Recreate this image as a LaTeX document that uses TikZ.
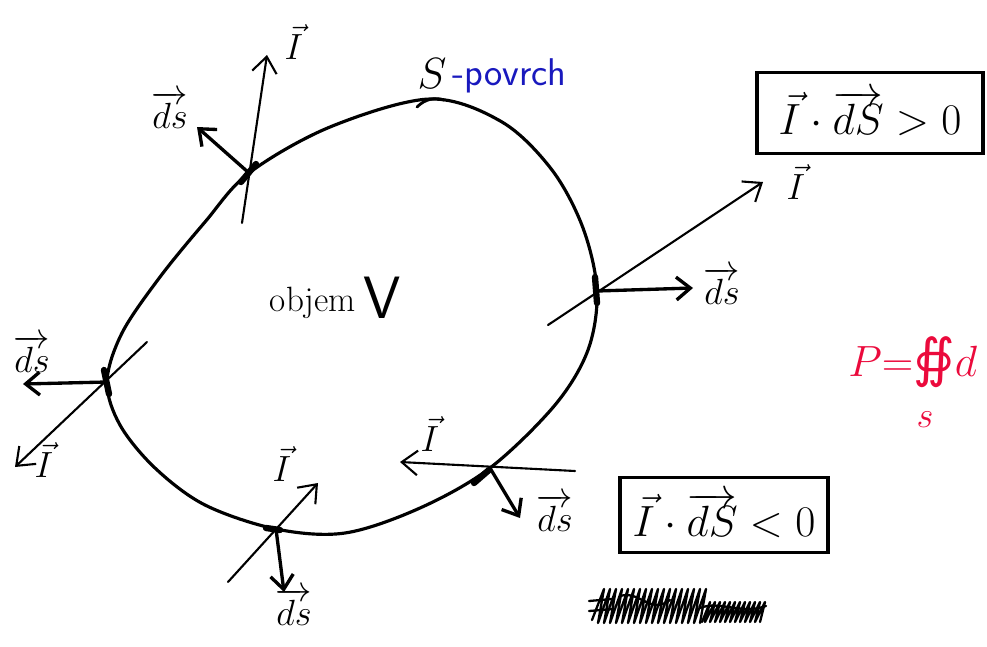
\documentclass[tikz,border=0pt]{standalone}
\usepackage{fontspec}
\newfontfamily\symfont{DejaVu Sans}
\usetikzlibrary{arrows.meta}
\definecolor{penred}{RGB}{235,10,60}
\definecolor{penblue}{RGB}{25,25,190}
\begin{document}
\begin{tikzpicture}[x=0.02cm,y=-0.02cm,
  curve/.style={line width=1.8pt, line cap=round},
  thick mark/.style={line width=3.6pt, line cap=round},
  vecI/.style={line width=1.2pt, line cap=round, -{Straight Barb[length=9pt,width=14pt]}},
  vecds/.style={line width=1.9pt, line cap=round, -{Straight Barb[length=8pt,width=13pt]}},
  lab/.style={font=\fontsize{20}{24}\selectfont, inner sep=0pt},
  boxlab/.style={draw, line width=1.8pt, font=\fontsize{25}{30}\selectfont, inner sep=0pt},
  scribble/.style={line width=1.3pt, line cap=round, line join=round}]
\useasboundingbox (0,0) rectangle (987,646);

% junctions on the surface
\coordinate (J1) at (249,173);
\coordinate (J2) at (597,291);
\coordinate (J3) at (107,382);
\coordinate (J4) at (276,529);
\coordinate (J5) at (490,468);

% closed surface S
\draw[curve] plot[smooth cycle, tension=0.55] coordinates {
  (249,173) (330,127) (430,99) (502,122) (552,170) (583,228) (597,291)
  (588,350) (555,405) (490,468) (420,508) (345,533) (276,529) (205,505)
  (155,468) (120,425) (107,382) (122,333) (160,277) (205,222)};
% orientation mark on the top
\draw[line width=1.6pt, line cap=round] (417,107) .. controls (425,99) and (435,97) .. (444,100);

% thickened junction marks
\draw[thick mark] (241,182) -- (256,164);
\draw[thick mark] (595,277) -- (597,303);
\draw[thick mark] (104,370) -- (109,394);
\draw[thick mark] (266,528) -- (280,530);
\draw[thick mark] (474,483) -- (489,470);

% end points of the vectors
\coordinate (I1s) at (242,223); \coordinate (I1e) at (267,55);
\coordinate (D1e) at (197,127);
\coordinate (I2s) at (548,325); \coordinate (I2e) at (763,182);
\coordinate (D2e) at (693,288);
\coordinate (I3s) at (147,342); \coordinate (I3e) at (15,467);
\coordinate (D3e) at (23,384);
\coordinate (I4s) at (228,582); \coordinate (I4e) at (318,483);
\coordinate (D4e) at (284,592);
\coordinate (I5s) at (575,471); \coordinate (I5e) at (400,462);
\coordinate (D5e) at (520,518);

% vectors I
\draw[vecI] (I1s) -- (I1e);
\draw[vecI] (I2s) -- (I2e);
\draw[vecI] (I3s) -- (I3e);
\draw[vecI] (I4s) -- (I4e);
\draw[vecI] (I5s) -- (I5e);
% vectors dS
\draw[vecds] (J1) -- (D1e);
\draw[vecds] (J2) -- (D2e);
\draw[vecds] (J3) -- (D3e);
\draw[vecds] (J4) -- (D4e);
\draw[vecds] (J5) -- (D5e);

% labels
\node[lab] (LI1) at (294,42) {$\vec{I}$};
\node[lab] (LD1) at (170,110) {$\overrightarrow{ds}$};
\node[lab] (LI2) at (796,182) {$\vec{I}$};
\node[lab] (LD2) at (722,286) {$\overrightarrow{ds}$};
\node[lab] (LD3) at (32,354) {$\overrightarrow{ds}$};
\node[lab] (LI3) at (44,460) {$\vec{I}$};
\node[lab] (LI4) at (282,464) {$\vec{I}$};
\node[lab] (LD4) at (294,607) {$\overrightarrow{ds}$};
\node[lab] (LI5) at (430,434) {$\vec{I}$};
\node[lab] (LD5) at (555,513) {$\overrightarrow{ds}$};

\node[inner sep=0pt, font=\fontsize{44}{50}\selectfont] (S) at (432,74) {$S$};
\node[inner sep=0pt, anchor=west, text=penblue, font=\sffamily\fontsize{22}{26}\selectfont] (povrch) at (452,76) {-povrch};

\node[inner sep=0pt, font=\fontsize{20}{24}\selectfont] (objem) at (313,303) {objem};
\node[inner sep=0pt, font=\sffamily\fontsize{34}{38}\selectfont] (V) at (382,298) {V};

\node[boxlab, minimum width=4.52cm, minimum height=1.62cm] (B1) at (870,113)
  {$\vec{I}\cdot\overrightarrow{dS} > 0$};
\node[boxlab, minimum width=4.16cm, minimum height=1.5cm] (B2) at (724,515)
  {$\vec{I}\cdot\overrightarrow{dS} < 0$};

% flux formula (red, cut at the edge)
\node[inner sep=0pt, anchor=west, text=penred, font=\fontsize{30}{34}\selectfont] (P) at (848,362)
  {$P{=}${\symfont ∯}$d$};
\node[inner sep=0pt, text=penred, font=\fontsize{22}{26}\selectfont] (Ssub) at (925,420) {$s$};

% crossed-out scribble
\draw[scribble] (592,620) \foreach \x in {594,600,...,696} { -- (\x+10,589) -- (\x+4,623) };
\draw[scribble] (702,622) \foreach \x in {702,707,...,757} { -- (\x+8,602) -- (\x+3,622) };
\draw[scribble] (589,601) -- (612,599);
\draw[scribble] (589,611) -- (614,609);
\draw[scribble] (620,596) .. controls (640,590) and (650,615) .. (670,600);
\draw[scribble] (700,608) .. controls (720,600) and (740,615) .. (766,606);
\end{tikzpicture}
\end{document}
